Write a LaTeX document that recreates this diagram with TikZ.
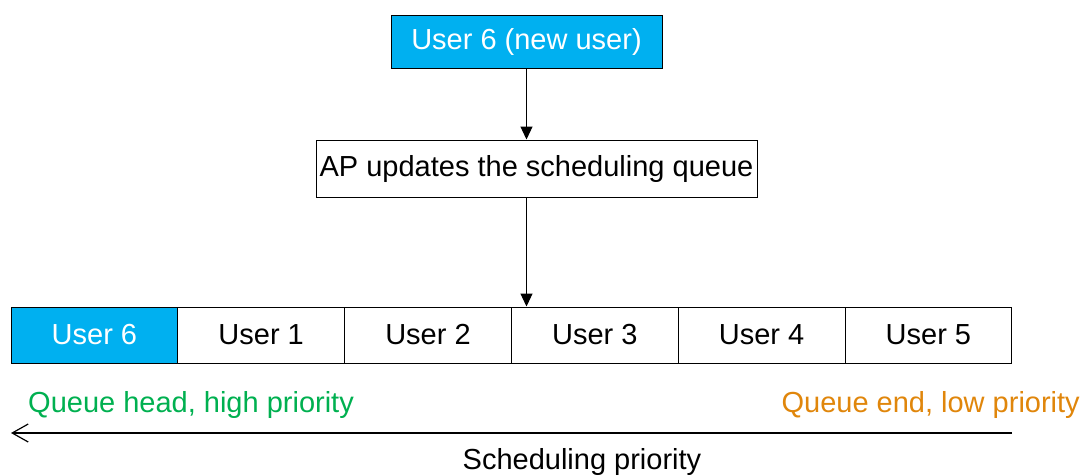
\documentclass[tikz,border=0pt]{standalone}
\usepackage{fontspec}
\setmainfont{Liberation Sans}
\usepackage{xcolor}
\usetikzlibrary{arrows.meta}
\definecolor{userblue}{HTML}{00B0F0}
\definecolor{headgreen}{HTML}{00B050}
\definecolor{endorange}{HTML}{E0860B}

\tikzset{
  cell/.style={draw=black, line width=1pt, minimum width=166.8pt, minimum height=56pt, inner sep=0pt, font=\fontsize{29}{34}\selectfont},
  flow/.style={-{Triangle[length=13pt,width=12pt]}, line width=1.2pt}
}

\begin{document}
\begin{tikzpicture}[x=1pt,y=-1pt]
            \useasboundingbox (0,0) rectangle (1082,475);
            \node[draw=black, fill=userblue, text=white, line width=1pt, minimum width=271pt, minimum height=53pt, inner sep=0pt, font=\fontsize{29}{34}\selectfont] (newuser) at (526.5, 41.5) {User 6 (new user)};
            \node[draw=black, line width=1pt, minimum width=441pt, minimum height=57pt, inner sep=0pt, font=\fontsize{29}{34}\selectfont] (apupdate) at (536.5, 168.5) {AP updates the scheduling queue};
            \node[cell, fill=userblue, text=white] (q0) at (94.4, 335) {User 6};
            \node[cell] (q1) at (261.2, 335) {User 1};
            \node[cell] (q2) at (428.0, 335) {User 2};
            \node[cell] (q3) at (594.8, 335) {User 3};
            \node[cell] (q4) at (761.6, 335) {User 4};
            \node[cell] (q5) at (928.4, 335) {User 5};
            \draw[flow] (newuser.south) -- (newuser.south |- apupdate.north);
            \draw[flow] (apupdate.south -| newuser.south) -- (newuser.south |- q3.north);
            %priority axis
            \node[anchor=west, text=headgreen, inner sep=0pt, font=\fontsize{29}{34}\selectfont] (headlabel) at (28, 405) {Queue head, high priority};
            \node[anchor=east, text=endorange, inner sep=0pt, font=\fontsize{29}{34}\selectfont] (endlabel) at (1080, 405) {Queue end, low priority};
            \coordinate (pend) at (1012, 433);
            \coordinate (phead) at (11, 433);
            \draw[-{Straight Barb[length=16pt,width=18pt]}, line width=1.2pt] (pend) -- (phead);
            \node[inner sep=0pt, font=\fontsize{29}{34}\selectfont] (axislabel) at (582, 462) {Scheduling priority};
        \end{tikzpicture}
\end{document}
